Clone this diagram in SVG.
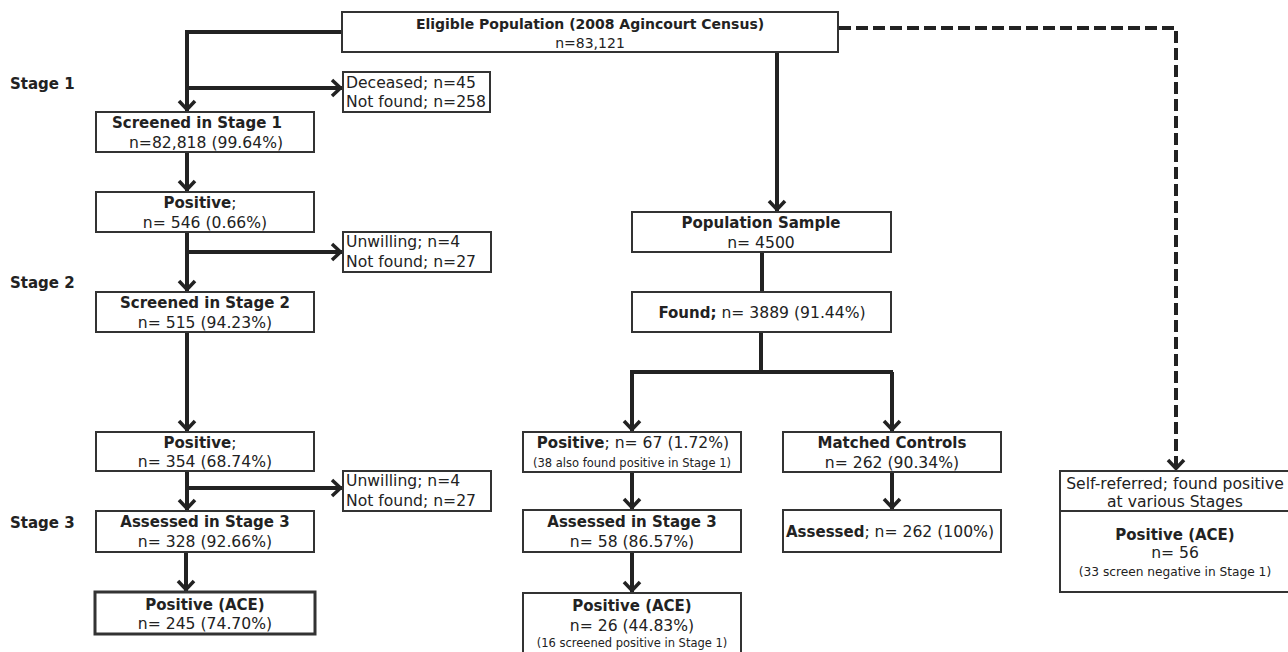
<svg xmlns="http://www.w3.org/2000/svg" width="1288" height="652" viewBox="0 0 1288 652">
<defs>
<marker id="ah" viewBox="-13 -10 15 20" markerWidth="15" markerHeight="20" refX="0" refY="0" markerUnits="userSpaceOnUse" orient="auto">
<path d="M-10,-8 L-1.5,0 L-10,8" fill="none" stroke="#222" stroke-width="3.5"/>
</marker>
<style>
text{font-family:"DejaVu Sans",Verdana,sans-serif;fill:#222;font-size:15.6px}
.b{font-weight:bold;font-size:15px}
.s{font-size:11.5px}
.c{text-anchor:middle}
.t{font-size:14px}
.box{fill:#fff;stroke:#333;stroke-width:2}
.thick{stroke-width:3}
.ln{fill:none;stroke:#222;stroke-width:4}
.ar{marker-end:url(#ah)}
.dash{stroke-dasharray:12 5}
</style>
</defs>
<rect width="1288" height="652" fill="#fff"/>
<g id="connectors">
<polyline class="ln ar" points="343,32 187,32 187,111"/>
<line class="ln ar" x1="187" y1="88" x2="342" y2="88"/>
<line class="ln ar" x1="187" y1="152" x2="187" y2="191"/>
<line class="ln ar" x1="187" y1="232" x2="187" y2="291"/>
<line class="ln ar" x1="187" y1="252" x2="342" y2="252"/>
<line class="ln ar" x1="187" y1="332" x2="187" y2="431"/>
<line class="ln ar" x1="187" y1="471" x2="187" y2="510"/>
<line class="ln ar" x1="187" y1="488" x2="342" y2="488"/>
<line class="ln ar" x1="186" y1="552" x2="186" y2="591"/>
<line class="ln ar" x1="777" y1="52" x2="777" y2="211"/>
<line class="ln" x1="762" y1="252" x2="762" y2="292"/>
<line class="ln" x1="761" y1="332" x2="761" y2="372"/>
<polyline class="ln" points="632,431 632,372 893,372"/>
<line class="ln ar" x1="632" y1="372" x2="632" y2="431"/>
<line class="ln ar" x1="892" y1="372" x2="892" y2="431"/>
<line class="ln ar" x1="632" y1="472" x2="632" y2="509"/>
<line class="ln ar" x1="632" y1="552" x2="632" y2="592"/>
<line class="ln ar" x1="892" y1="472" x2="892" y2="509"/>
<polyline class="ln dash ar" points="839,28 1176,28 1176,470"/>
</g>
<g id="stage-labels">
<text class="b" x="10" y="89">Stage 1</text>
<text class="b" x="10" y="288">Stage 2</text>
<text class="b" x="10" y="528">Stage 3</text>
</g>
<g id="eligible">
<rect class="box" x="342" y="12" width="496" height="40"/>
<text class="b c t" x="590" y="29">Eligible Population (2008 Agincourt Census)</text>
<text class="c t" x="590" y="48">n=83,121</text>
</g>
<g id="excluded1">
<rect class="box" x="343" y="72" width="147" height="40"/>
<text x="346" y="88">Deceased; n=45</text>
<text x="346" y="107">Not found; n=258</text>
</g>
<g id="screened1">
<rect class="box" x="96" y="112" width="218" height="40"/>
<text class="b c" x="197" y="128">Screened in Stage 1</text>
<text class="c" x="206" y="148">n=82,818 (99.64%)</text>
</g>
<g id="positive1">
<rect class="box" x="96" y="192" width="218" height="40"/>
<text class="c" x="200" y="208"><tspan class="b">Positive</tspan>;</text>
<text class="c" x="205" y="228">n= 546 (0.66%)</text>
</g>
<g id="excluded2">
<rect class="box" x="343" y="232" width="148" height="40"/>
<text x="346" y="247">Unwilling; n=4</text>
<text x="346" y="267">Not found; n=27</text>
</g>
<g id="screened2">
<rect class="box" x="96" y="292" width="218" height="40"/>
<text class="b c" x="205" y="308">Screened in Stage 2</text>
<text class="c" x="205" y="328">n= 515 (94.23%)</text>
</g>
<g id="positive2">
<rect class="box" x="96" y="432" width="218" height="39"/>
<text class="c" x="200" y="448"><tspan class="b">Positive</tspan>;</text>
<text class="c" x="205" y="467">n= 354 (68.74%)</text>
</g>
<g id="excluded3">
<rect class="box" x="343" y="471" width="148" height="40"/>
<text x="346" y="486">Unwilling; n=4</text>
<text x="346" y="506">Not found; n=27</text>
</g>
<g id="assessed3">
<rect class="box" x="96" y="511" width="218" height="41"/>
<text class="b c" x="205" y="527">Assessed in Stage 3</text>
<text class="c" x="205" y="547">n= 328 (92.66%)</text>
</g>
<g id="ace-left">
<rect class="box thick" x="95" y="592" width="220" height="42"/>
<text class="b c" x="205" y="610">Positive (ACE)</text>
<text class="c" x="205" y="629">n= 245 (74.70%)</text>
</g>
<g id="pop-sample">
<rect class="box" x="632" y="212" width="259" height="40"/>
<text class="b c" x="761" y="228">Population Sample</text>
<text class="c" x="761" y="248">n= 4500</text>
</g>
<g id="found">
<rect class="box" x="632" y="292" width="259" height="40"/>
<text class="c" x="762" y="318"><tspan class="b">Found;</tspan> n= 3889 (91.44%)</text>
</g>
<g id="positive-sample">
<rect class="box" x="523" y="432" width="218" height="40"/>
<text class="c" x="633" y="448"><tspan class="b">Positive</tspan>; n= 67 (1.72%)</text>
<text class="s c" x="632" y="467">(38 also found positive in Stage 1)</text>
</g>
<g id="matched">
<rect class="box" x="783" y="432" width="218" height="40"/>
<text class="b c" x="892" y="448">Matched Controls</text>
<text class="c" x="892" y="468">n= 262 (90.34%)</text>
</g>
<g id="assessed-sample">
<rect class="box" x="523" y="510" width="218" height="42"/>
<text class="b c" x="632" y="527">Assessed in Stage 3</text>
<text class="c" x="632" y="547">n= 58 (86.57%)</text>
</g>
<g id="assessed-controls">
<rect class="box" x="783" y="510" width="218" height="42"/>
<text class="c" x="890" y="537"><tspan class="b">Assessed</tspan>; n= 262 (100%)</text>
</g>
<g id="ace-sample">
<rect class="box" x="523" y="593" width="218" height="62"/>
<text class="b c" x="632" y="611">Positive (ACE)</text>
<text class="c" x="632" y="631">n= 26 (44.83%)</text>
<text class="s c" x="632" y="647">(16 screened positive in Stage 1)</text>
</g>
<g id="self-referred">
<rect class="box" x="1060" y="471" width="232" height="121"/>
<line x1="1060" y1="511" x2="1292" y2="511" stroke="#333" stroke-width="2"/>
<text class="c" x="1175" y="489">Self-referred; found positive</text>
<text class="c" x="1175" y="507">at various Stages</text>
<text class="b c" x="1175" y="540">Positive (ACE)</text>
<text class="c" x="1175" y="558">n= 56</text>
<text class="s c" x="1175" y="576" style="font-size:12.2px">(33 screen negative in Stage 1)</text>
</g>
</svg>
